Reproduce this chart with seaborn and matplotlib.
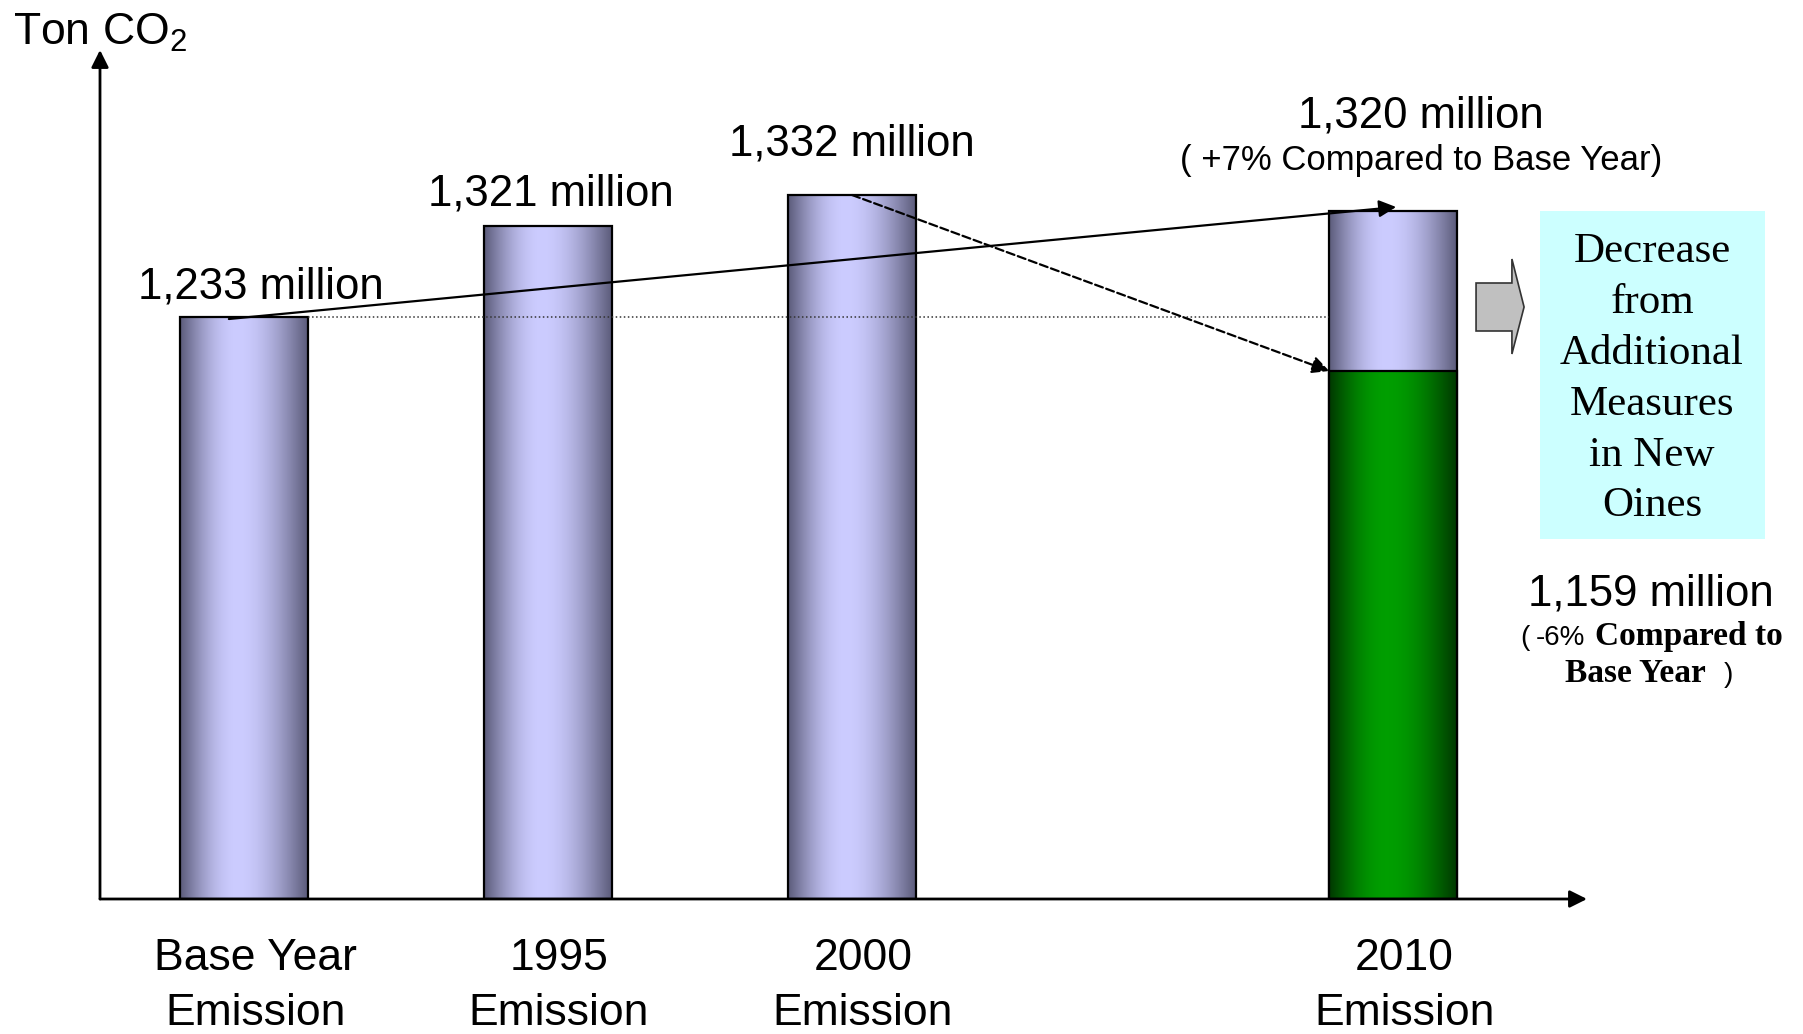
import matplotlib as mpl
mpl.use('Agg')
import matplotlib.pyplot as plt
import matplotlib.transforms as mtransforms
from matplotlib.patches import Rectangle, Polygon
import numpy as np
import seaborn as sns

# categories and the values written over the bars (million ton CO2)
categories = ['Base Year\nEmission', '1995\nEmission', '2000\nEmission', '2010\nEmission']
emission = [1233, 1321, 1332, 1320]
# heights the bars are drawn with on the slide (schematic, not to scale)
bar_height = [582, 673, 704, 688]
# 2010 after the additional measures
emission_after = 1159
after_height = 528
change_2010 = '+7%'
change_after = '-6%'
box_text = 'Decrease\nfrom\nAdditional\nMeasures\nin New\nOines'

# layout
bar_pos = [0, 1, 2, 3.78]
bar_width = 0.42
label_offset = [(0.056, 19), (0.01, 21), (0.0, 40), (0.09, 84)]

LAV_DARK = np.array([0.36, 0.36, 0.48])
LAV_LIGHT = np.array([0.80, 0.80, 1.00])
GREEN_DARK = np.array([0.0, 0.22, 0.0])
GREEN_LIGHT = np.array([0.0, 0.62, 0.0])

SANS = ['Liberation Sans', 'DejaVu Sans']
SERIF = ['Liberation Serif', 'DejaVu Serif']


def gradient(dark, light, n=256, peak=0.45):
    t = np.linspace(0, 1, n)
    w = np.where(t < peak, t / peak, (1 - t) / (1 - peak))
    w = np.sin(w * np.pi / 2)
    rgb = dark[None, :] + (light - dark)[None, :] * w[:, None]
    return rgb[None, :, :]


def shade_bars(ax, patches, dark, light, z):
    for p in patches:
        x, y = p.get_x(), p.get_y()
        w, h = p.get_width(), p.get_height()
        ax.imshow(gradient(dark, light), extent=[x, x + w, y, y + h],
                  aspect='auto', zorder=z, interpolation='bilinear')
        p.set_facecolor('none')
        p.set_zorder(z + 0.2)


def main():
    sns.set_theme(style='white')
    plt.rcParams['font.family'] = SANS
    plt.rcParams['text.color'] = 'black'
    plt.rcParams['xtick.color'] = 'black'
    plt.rcParams['mathtext.fontset'] = 'custom'
    plt.rcParams['mathtext.rm'] = 'Liberation Sans'
    plt.rcParams['mathtext.it'] = 'Liberation Sans:italic'

    fig = plt.figure(figsize=(18.03, 10.34), dpi=100)
    ax = fig.add_axes([100 / 1803, 1 - 899 / 1034, 1487 / 1803, 849 / 1034])

    sns.barplot(x=bar_pos, y=bar_height, native_scale=True, width=bar_width,
                color='#ccccff', edgecolor='black', linewidth=1.6, ax=ax)
    lav = list(ax.patches)
    sns.barplot(x=[bar_pos[3]], y=[after_height], native_scale=True, width=bar_width,
                color='#009900', edgecolor='black', linewidth=1.6, ax=ax)
    green = [p for p in ax.patches if p not in lav]
    shade_bars(ax, lav, LAV_DARK, LAV_LIGHT, 2)
    shade_bars(ax, green, GREEN_DARK, GREEN_LIGHT, 2.5)

    ax.set_xlim(-0.474, 4.418)
    ax.set_ylim(0, 849)
    for s in ax.spines.values():
        s.set_visible(False)
    ax.set_yticks([])
    ax.set_xticks(bar_pos, categories)
    ax.tick_params(axis='x', length=0, pad=28, labelsize=32, labelcolor='black')
    shift = mtransforms.ScaledTranslation(0.11, 0, fig.dpi_scale_trans)
    for lab in ax.get_xticklabels():
        lab.set_transform(lab.get_transform() + shift)
        lab.set_linespacing(1.45)

    # axis arrows
    axis_arrow = dict(arrowstyle='-|>', color='black', lw=2, mutation_scale=26,
                      shrinkA=0, shrinkB=0)
    ax.annotate('', xy=(1, 0), xytext=(0, 0), xycoords='axes fraction',
                arrowprops=axis_arrow, annotation_clip=False)
    ax.annotate('', xy=(0, 1), xytext=(0, 0), xycoords='axes fraction',
                arrowprops=axis_arrow, annotation_clip=False)
    ax.text(-0.76, 854, 'Ton CO$_2$', fontsize=32, ha='left', va='baseline')

    # value labels
    for i, v in enumerate(emission):
        dx, dy = label_offset[i]
        ax.text(bar_pos[i] + dx, bar_height[i] + dy, '{:,} million'.format(v),
                fontsize=31.5, ha='center', va='baseline', zorder=6)
    ax.text(bar_pos[3] + 0.092, bar_height[3] + 41,
            '( {} Compared to Base Year)'.format(change_2010),
            fontsize=25, ha='center', va='baseline')

    # base-year level and trend arrows
    ax.plot([bar_pos[0] + bar_width / 2, bar_pos[3] - bar_width / 2],
            [bar_height[0], bar_height[0]], ls=':', color='#333333', lw=1.1, zorder=4)
    ax.annotate('', xy=(bar_pos[3] + 0.01, bar_height[3] + 4),
                xytext=(bar_pos[0] - 0.05, bar_height[0] - 2),
                arrowprops=dict(arrowstyle='-|>', color='black', lw=1.6,
                                mutation_scale=26, shrinkA=0, shrinkB=0), zorder=6)
    ax.annotate('', xy=(bar_pos[3] - bar_width / 2, after_height),
                xytext=(bar_pos[2], bar_height[2]),
                arrowprops=dict(arrowstyle='-|>', color='black', lw=1.6, ls='--',
                                mutation_scale=26, shrinkA=0, shrinkB=0), zorder=6)

    # block arrow and text box on the right
    arrow_pts = [(4.053, 616), (4.171, 616), (4.171, 640), (4.211, 592),
                 (4.171, 545), (4.171, 568), (4.053, 568)]
    ax.add_patch(Polygon(arrow_pts, closed=True, facecolor='#c0c0c0',
                         edgecolor='#333333', lw=1.2, clip_on=False, zorder=4))
    ax.add_patch(Rectangle((4.263, 360), 0.740, 328, facecolor='#ccffff',
                           edgecolor='none', clip_on=False, zorder=1))
    ax.text(4.632, 520, box_text, family=SERIF, fontsize=31, ha='center',
            va='center', linespacing=1.42, zorder=5)

    ax.text(4.628, 294, '{:,} million'.format(emission_after), fontsize=31.5,
            ha='center', va='baseline')
    ax.text(4.197, 254, '(', fontsize=20, va='baseline')
    ax.text(4.25, 254, change_after, fontsize=20, va='baseline')
    ax.text(4.445, 254, 'Compared to', fontsize=24, family=SERIF,
            weight='bold', va='baseline')
    ax.text(4.345, 217, 'Base Year', fontsize=24, family=SERIF,
            weight='bold', va='baseline')
    ax.text(4.868, 217, ')', fontsize=20, va='baseline')

    fig.savefig('out.png', dpi=100)


if __name__ == '__main__':
    main()
